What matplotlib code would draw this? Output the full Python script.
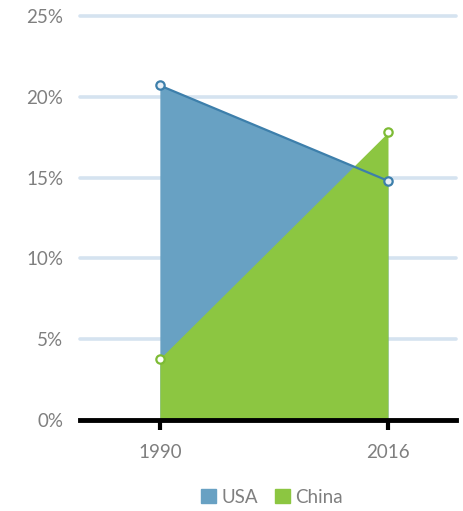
import numpy as np
import matplotlib.pyplot as plt
from matplotlib.patches import Patch
from matplotlib.ticker import FuncFormatter

plt.rcParams['font.family'] = ['Lato', 'DejaVu Sans']

years = [1990, 2016]
usa = [0.207, 0.148]
china = [0.038, 0.178]
series_names = ['USA', 'China']
y_ticks = [0, 0.05, 0.10, 0.15, 0.20, 0.25]

usa_fill = '#68a1c3'
usa_line = '#3d7fab'
china_fill = '#8cc641'
china_line = '#7dbb35'
grey = '#7f7f7f'

fig = plt.figure(figsize=(4.63, 5.11), dpi=100)
ax = fig.add_axes([80/463, 91/511, 376/463, 404/511])

# areas
ax.fill_between(years, usa, 0, color=usa_fill, lw=0, zorder=2)
ax.fill_between(years, china, 0, color=china_fill, lw=0, zorder=3)
ax.plot(years, usa, color=usa_line, lw=1.6, zorder=4)
ax.plot(years, usa, 'o', ms=6, mfc='#e8f0f7', mec=usa_line, mew=1.6, zorder=5)
ax.plot(years, china, 'o', ms=6, mfc='white', mec=china_line, mew=1.6, zorder=5)

ax.set_xlim(1980.9, 2023.75)
ax.set_ylim(0, 0.25)
ax.set_xticks(years)
ax.set_yticks(y_ticks)
ax.yaxis.set_major_formatter(FuncFormatter(lambda v, p: '%d%%' % round(v * 100)))

# grid lines
for v in y_ticks[1:]:
    ax.axhline(v, color='#d5e3f0', lw=2.6, zorder=1, clip_on=False,
               solid_capstyle='round')

for s in ['top', 'right', 'left']:
    ax.spines[s].set_visible(False)
ax.spines['bottom'].set_linewidth(3.5)
ax.spines['bottom'].set_color('black')
ax.spines['bottom'].set_zorder(6)

ax.tick_params(axis='y', length=0, pad=12, labelsize=13.5, labelcolor=grey)
ax.tick_params(axis='x', length=7, width=3, color='black', pad=10,
               labelsize=13.5, labelcolor=grey)

handles = [Patch(color=usa_fill), Patch(color=china_fill)]
fig.legend(handles, series_names, loc='center', bbox_to_anchor=(272/463, 1 - 497/511),
           ncol=2, frameon=False, fontsize=13.5, labelcolor=grey,
           handlelength=0.8, handleheight=0.8, handletextpad=0.3, columnspacing=0.9)

fig.savefig('out.png', dpi=100)
